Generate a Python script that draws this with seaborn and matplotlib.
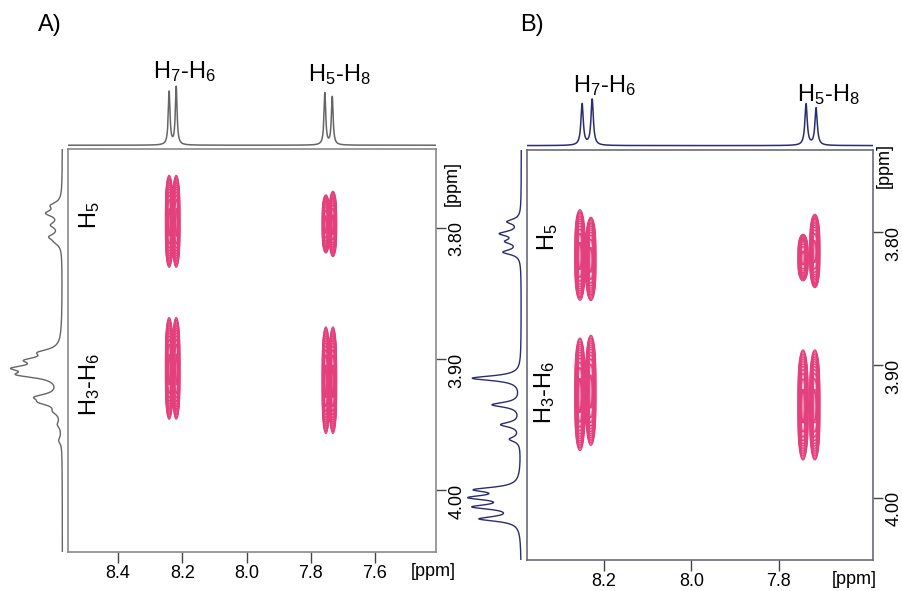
import numpy as np
import matplotlib
matplotlib.use('Agg')
import matplotlib.pyplot as plt
import seaborn as sns

sns.set_style('white')
plt.rcParams['font.family'] = ['Liberation Sans', 'DejaVu Sans']
plt.rcParams['mathtext.fontset'] = 'custom'
plt.rcParams['mathtext.rm'] = 'Liberation Sans'
plt.rcParams['mathtext.it'] = 'Liberation Sans:italic'
plt.rcParams['text.color'] = 'black'
plt.rcParams['xtick.color'] = 'black'
plt.rcParams['ytick.color'] = 'black'

W, H = 902, 591

# Panel A - 1D projections (ppm, relative intensity)
a_top_ppm = [8.241, 8.219, 7.756, 7.733]
a_top_int = [0.92, 1.00, 0.90, 0.83]
a_left_ppm = [3.783, 3.789, 3.798, 3.807, 3.811, 3.895, 3.901, 3.907, 3.912,
              3.929, 3.933, 3.940, 3.950, 3.962]
a_left_int = [0.25, 0.38, 0.25, 0.30, 0.11, 0.47, 0.72, 1.00, 0.94,
              0.57, 0.42, 0.15, 0.09, 0.08]
# Panel A - cross peaks (f2 ppm, f1 ppm, half extent in f1)
a_cross_x = [8.241, 8.219, 7.753, 7.731, 8.241, 8.219, 7.753, 7.731]
a_cross_y = [3.795, 3.795, 3.797, 3.797, 3.907, 3.907, 3.916, 3.916]
a_cross_hw = [0.038, 0.038, 0.024, 0.027, 0.042, 0.042, 0.044, 0.044]

# Panel B - 1D projections
b_top_ppm = [8.250, 8.227, 7.738, 7.715]
b_top_int = [0.90, 1.00, 0.90, 0.81]
b_left_ppm = [3.792, 3.801, 3.807, 3.815, 3.910, 3.930, 3.945, 3.956,
              3.994, 4.000, 4.007, 4.016]
b_left_int = [0.27, 0.40, 0.27, 0.35, 1.00, 0.58, 0.40, 0.22,
              0.85, 0.91, 0.87, 0.80]
# Panel B - cross peaks
b_cross_x = [8.255, 8.230, 7.745, 7.718, 8.255, 8.230, 7.745, 7.718]
b_cross_y = [3.817, 3.820, 3.819, 3.814, 3.922, 3.919, 3.930, 3.930]
b_cross_hw = [0.037, 0.034, 0.019, 0.030, 0.046, 0.045, 0.045, 0.045]

x_ticks_a = [8.4, 8.2, 8.0, 7.8, 7.6]
x_ticks_b = [8.2, 8.0, 7.8]
y_ticks = [3.80, 3.90, 4.00]

PINK = '#e3407c'


def px_axes(fig, left, top, right, bottom):
    return fig.add_axes([left / W, 1 - bottom / H, (right - left) / W, (bottom - top) / H])


def ftext(fig, x, y, s, **kw):
    fig.text(x / W, 1 - y / H, s, **kw)


def lorentz(grid, centers, heights, gamma):
    out = np.zeros_like(grid)
    for c, h in zip(centers, heights):
        out += h * gamma ** 2 / ((grid - c) ** 2 + gamma ** 2)
    return out / out.max()


def panel(fig, box, top_box, left_box, xlim, ylim, xticks, top_ppm, top_int,
          left_ppm, left_int, cx, cy, chw, line_col, spine_col, gam_left):
    ax = px_axes(fig, *box)
    xs = np.linspace(xlim[1], xlim[0], 1000)
    ys = np.linspace(ylim[1], ylim[0], 800)
    X, Y = np.meshgrid(xs, ys)
    Z = np.zeros_like(X)
    for x0, y0, hw in zip(cx, cy, chw):
        sy = hw / 4.3
        gx = np.exp(-0.5 * ((X - x0) / 0.0048) ** 2)
        # a few lobes along f1 give the multiplet texture
        for off, w in ((-0.4, 0.85), (0.0, 1.0), (0.4, 0.9)):
            Z += w * gx * np.exp(-0.5 * ((Y - y0 - off * hw) / sy) ** 2)
    Z /= Z.max()
    ax.contour(X, Y, Z, levels=np.geomspace(0.05, 0.9, 14), colors=PINK, linewidths=0.8)
    ax.set_xlim(*xlim)
    ax.set_ylim(*ylim)
    ax.set_xticks(xticks)
    ax.set_xticklabels([f'{t:.1f}' for t in xticks])
    ax.set_yticks(y_ticks)
    ax.set_yticklabels([f'{t:.2f}' for t in y_ticks])
    ax.tick_params(axis='x', bottom=True, direction='out', length=8, width=1,
                   color='#444444', labelsize=13, pad=1)
    ax.tick_params(axis='y', left=False, right=True, labelleft=False, labelright=True,
                   direction='out', length=7, width=1, color='#444444',
                   labelsize=13, labelrotation=90, pad=2)
    for s in ax.spines.values():
        s.set_color(spine_col)
        s.set_linewidth(1.2)

    # top projection
    axt = px_axes(fig, *top_box)
    tx = np.linspace(xlim[1], xlim[0], 2000)
    sns.lineplot(x=tx, y=lorentz(tx, top_ppm, top_int, 0.0032), ax=axt,
                 color=line_col, lw=1.1, sort=False, estimator=None)
    axt.set_xlim(*xlim)
    axt.set_ylim(-0.03, 1.02)
    axt.axis('off')

    # left projection
    axl = px_axes(fig, *left_box)
    ly = np.linspace(ylim[1] - 0.01, ylim[0] + 0.01, 2000)
    sns.lineplot(x=lorentz(ly, left_ppm, left_int, gam_left), y=ly, ax=axl,
                 color=line_col, lw=1.0, sort=False, estimator=None)
    axl.set_ylim(*ylim)
    axl.set_xlim(1.05, -0.03)
    axl.axis('off')
    return ax


fig = plt.figure(figsize=(W / 100, H / 100), dpi=100)

panel(fig, (68, 149, 436, 552), (68, 85, 436, 147), (8, 149, 64, 552),
      (8.556, 7.41), (4.047, 3.740), x_ticks_a, a_top_ppm, a_top_int,
      a_left_ppm, a_left_int, a_cross_x, a_cross_y, a_cross_hw,
      '#666666', '#8a8a8a', 0.0028)
panel(fig, (527, 150, 873, 560), (527, 98, 873, 147), (465, 150, 523, 560),
      (8.376, 7.585), (4.047, 3.738), x_ticks_b, b_top_ppm, b_top_int,
      b_left_ppm, b_left_int, b_cross_x, b_cross_y, b_cross_hw,
      '#2b2d6e', '#6a6a7a', 0.0022)

lab = dict(fontsize=17, ha='center', va='center')
ftext(fig, 50, 25, 'A)', **lab)
ftext(fig, 532, 25, 'B)', **lab)
ftext(fig, 184, 72, r'H$_{\mathit{7}}$-H$_{\mathit{6}}$', **lab)
ftext(fig, 339, 75, r'H$_{\mathit{5}}$-H$_{\mathit{8}}$', **lab)
ftext(fig, 604, 86, r'H$_{\mathit{7}}$-H$_{\mathit{6}}$', **lab)
ftext(fig, 828, 95, r'H$_{\mathit{5}}$-H$_{\mathit{8}}$', **lab)
ftext(fig, 90, 215, r'H$_5$', rotation=90, **lab)
ftext(fig, 90, 385, r'H$_3$-H$_6$', rotation=90, **lab)
ftext(fig, 548, 237, r'H$_5$', rotation=90, **lab)
ftext(fig, 545, 393, r'H$_3$-H$_6$', rotation=90, **lab)

ppm = dict(fontsize=13, ha='center', va='center')
ftext(fig, 433, 571, '[ppm]', **ppm)
ftext(fig, 854, 580, '[ppm]', **ppm)
ftext(fig, 452, 184, '[ppm]', rotation=90, **ppm)
ftext(fig, 884, 165, '[ppm]', rotation=90, **ppm)

fig.savefig('out.png', dpi=100)
